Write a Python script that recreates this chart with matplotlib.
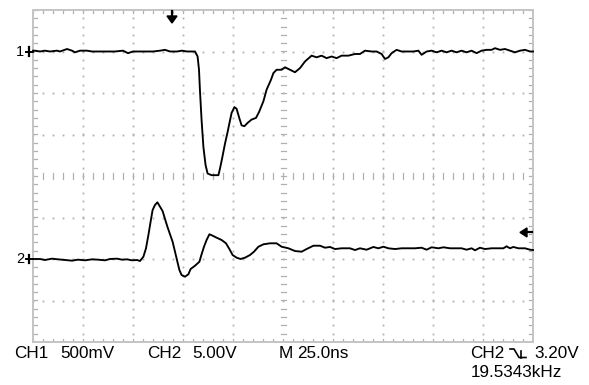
import numpy as np
import matplotlib
matplotlib.use("Agg")
import matplotlib.pyplot as plt
from matplotlib.transforms import blended_transform_factory
from matplotlib.patches import Polygon

# ---- acquisition settings -------------------------------------------------
time_per_div = 25.0          # ns / div
ch1_scale = 0.5              # V / div
ch2_scale = 5.0              # V / div
ch1_position = 3.0           # ground marker, divisions from centre
ch2_position = -2.0
trigger_time = 69.5          # ns from left edge of the screen
trigger_level = 3.20         # V on CH2

# ---- channel 1 record (ns, V) --------------------------------------------
ch1_t = [0.0, 1.0, 3.5, 6.0, 8.5, 12.0, 13.5, 17.0, 19.5, 21.0, 23.5, 27.0, 29.5,
         32.5, 37.0, 41.0, 45.0, 47.5, 50.0, 53.5, 57.0, 60.0, 63.5, 66.0, 68.5,
         72.0, 74.5, 77.0, 79.5, 81.0, 82.3, 83.0, 83.5, 84.3, 85.2, 86.3, 87.3,
         89.3, 92.7, 93.5, 94.7, 96.0, 97.3, 98.5, 99.3, 100.7, 101.8, 103.0,
         104.3, 105.7, 107.3, 109.3, 111.5, 113.0, 115.2, 116.8, 119.0, 120.2,
         121.8, 124.3, 126.0, 128.5, 131.0, 133.5, 136.0, 139.3, 141.8, 144.3,
         146.8, 149.3, 151.8, 154.3, 157.7, 161.0, 163.5, 166.0, 169.3, 171.8,
         174.3, 176.0, 177.7, 179.3, 181.8, 184.3, 187.7, 190.2, 192.7, 194.3,
         196.8, 199.3, 201.8, 204.3, 206.8, 209.3, 211.8, 214.3, 216.8, 219.3,
         221.8, 224.3, 226.8, 229.3, 231.0, 233.5, 236.0, 238.5, 241.0, 243.5,
         246.0, 248.5, 250.0]
ch1_v = [0.01, 0.01, 0.00, 0.01, 0.00, 0.01, 0.00, 0.03, 0.01, -0.01, 0.01, 0.01,
         0.00, 0.00, 0.00, 0.00, 0.01, -0.02, 0.00, 0.00, 0.00, 0.00, 0.01, 0.02,
         0.00, 0.00, 0.01, 0.00, 0.00, 0.00, -0.06, -0.22, -0.48, -0.83, -1.15,
         -1.37, -1.47, -1.49, -1.49, -1.41, -1.27, -1.11, -0.97, -0.83, -0.74,
         -0.67, -0.69, -0.79, -0.89, -0.90, -0.86, -0.82, -0.80, -0.73, -0.60,
         -0.46, -0.34, -0.26, -0.22, -0.22, -0.19, -0.22, -0.25, -0.20, -0.12,
         -0.05, -0.07, -0.05, -0.08, -0.06, -0.08, -0.05, -0.05, -0.03, -0.03,
         0.01, 0.00, 0.00, -0.03, -0.09, -0.07, -0.02, 0.02, 0.00, 0.00, 0.00,
         0.01, -0.04, 0.00, 0.01, -0.01, 0.01, -0.01, 0.01, -0.01, 0.01, -0.01,
         0.01, -0.02, 0.01, 0.02, 0.02, 0.04, 0.02, 0.03, 0.01, -0.01, 0.01,
         0.02, 0.00, 0.00]

# ---- channel 2 record (ns, V) --------------------------------------------
ch2_t = [0.0, 3.5, 6.0, 9.5, 12.5, 16.0, 19.5, 22.5, 26.0, 29.5, 32.5, 36.0, 38.5,
         42.0, 44.5, 47.0, 49.5, 52.0, 53.5, 55.2, 56.5, 57.7, 58.8, 59.8, 61.0,
         62.2, 63.5, 64.8, 66.0, 67.2, 68.5, 69.8, 71.0, 72.2, 73.2, 74.3, 76.0,
         77.7, 78.8, 81.0, 83.2, 84.3, 85.5, 86.8, 88.2, 89.8, 91.8, 94.3, 96.5,
         98.2, 99.8, 101.8, 103.8, 106.0, 108.5, 110.5, 112.7, 115.2, 118.5,
         121.8, 124.3, 127.7, 131.0, 134.3, 136.8, 140.2, 143.5, 146.0, 148.5,
         151.0, 154.3, 158.5, 161.0, 163.5, 166.8, 170.2, 172.7, 175.2, 177.7,
         181.0, 184.3, 187.7, 191.0, 194.3, 196.8, 199.3, 202.7, 205.2, 208.5,
         211.0, 214.3, 216.8, 219.3, 221.0, 223.5, 226.0, 229.3, 232.7, 235.2,
         236.8, 238.5, 240.2, 242.7, 246.0, 248.5, 250.0]
ch2_v = [0.00, 0.00, -0.12, 0.04, -0.04, -0.12, -0.20, -0.08, -0.16, -0.04, -0.08,
         -0.16, 0.00, 0.04, -0.08, -0.04, -0.16, -0.12, -0.24, 0.28, 1.29, 2.89,
         4.49, 5.90, 6.51, 6.83, 6.30, 5.78, 4.82, 3.89, 2.98, 2.08, 0.88, -0.33,
         -1.33, -1.93, -2.13, -1.84, -1.21, -0.81, -0.33, 0.57, 1.48, 2.29, 2.98,
         2.81, 2.57, 2.29, 1.89, 1.20, 0.48, 0.16, 0.00, 0.16, 0.48, 0.88, 1.48,
         1.77, 1.89, 1.89, 1.48, 1.29, 0.96, 0.88, 1.20, 1.60, 1.60, 1.36, 1.45,
         1.20, 1.29, 1.29, 1.08, 1.29, 1.12, 1.45, 1.29, 1.48, 1.29, 1.20, 1.29,
         1.29, 1.29, 1.36, 1.12, 1.41, 1.29, 1.41, 1.29, 1.29, 1.29, 1.12, 1.29,
         1.05, 1.36, 1.20, 1.29, 1.29, 1.29, 1.53, 1.29, 1.45, 1.29, 1.29, 1.12,
         1.08]

readout = ["CH1", "500mV", "CH2", "5.00V", "M", "25.0ns", "CH2", "3.20V", "19.5343kHz"]

# ---- figure ---------------------------------------------------------------
W, H = 589, 385
fig = plt.figure(figsize=(W / 100, H / 100), dpi=100)
fig.patch.set_facecolor("white")


def fx(px):
    return px / W


def fy(py):
    return 1 - py / H


ax = fig.add_axes([fx(33), fy(342), 500 / W, 332 / H])
ax.set_xlim(0, 10 * time_per_div)
ax.set_ylim(-4, 4)
ax.axis("off")

grid_col = "#b0b0b0"
edge_col = "#c4c4c4"
xs_minor = np.arange(0, 10 * time_per_div + 0.01, time_per_div / 5)
ys_minor = np.arange(-4, 4.001, 0.2)
tick_x = time_per_div * 0.05   # ~2.5 px
tick_y = 0.07                  # ~3 px

# dotted division lines
for i in range(1, 10):
    if i == 5:
        continue
    ax.plot(np.full_like(ys_minor, i * time_per_div), ys_minor, "s", ms=1.3,
            color=grid_col, mec="none")
for j in range(-3, 4):
    if j == 0:
        continue
    ax.plot(xs_minor, np.full_like(xs_minor, j), "s", ms=1.3,
            color=grid_col, mec="none")

# centre cross with minor ticks
xc = 5 * time_per_div
for x in xs_minor:
    ax.plot([x, x], [-tick_y, tick_y], color=grid_col, lw=0.9)
    ax.plot([x, x], [4, 4 - tick_y * 1.2], color=grid_col, lw=0.9)
    ax.plot([x, x], [-4, -4 + tick_y * 1.2], color=grid_col, lw=0.9)
for y in ys_minor:
    ax.plot([xc - tick_x, xc + tick_x], [y, y], color=grid_col, lw=0.9)
    ax.plot([0, tick_x * 1.5], [y, y], color=grid_col, lw=0.9)
    ax.plot([250 - tick_x * 1.5, 250], [y, y], color=grid_col, lw=0.9)

# screen border
ax.plot([0, 250, 250, 0, 0], [-4, -4, 4, 4, -4], color=edge_col, lw=1.4,
        clip_on=False, solid_joinstyle="miter")

# traces
ch1_div = ch1_position + np.array(ch1_v) / ch1_scale
ch2_div = ch2_position + np.array(ch2_v) / ch2_scale
ax.plot(ch1_t, ch1_div, color="black", lw=1.35, clip_on=False)
ax.plot(ch2_t, ch2_div, color="black", lw=1.35, clip_on=False)

# ground markers
bt = blended_transform_factory(fig.transFigure, ax.transData)
for label, pos in (("1", ch1_position), ("2", ch2_position)):
    ax.text(fx(16), pos, label, transform=bt, fontsize=10.5,
            family="Liberation Sans", va="center", ha="left")
    ax.plot([fx(25.5), fx(33)], [pos, pos], transform=bt, color="black",
            lw=1.4, clip_on=False)
    ax.plot([fx(28.5), fx(28.5)], [pos - 0.1, pos + 0.1], transform=bt,
            color="black", lw=1.6, clip_on=False)

# trigger position arrow (top)
tt = blended_transform_factory(ax.transData, fig.transFigure)
ax.plot([trigger_time, trigger_time], [fy(11), fy(17)], transform=tt,
        color="black", lw=1.6, clip_on=False)
xpix = ax.transData.transform((trigger_time, 0))[0]
fig.patches.append(Polygon([(fx(xpix - 5), fy(16)), (fx(xpix + 5), fy(16)),
                            (fx(xpix), fy(23))], closed=True,
                           transform=fig.transFigure, color="black"))

# trigger level arrow (right)
lvl = ch2_position + trigger_level / ch2_scale
ypix = ax.transData.transform((0, lvl))[1]
ax.plot([fx(525), fx(532)], [lvl, lvl], transform=bt, color="black", lw=1.6,
        clip_on=False)
fig.patches.append(Polygon([(fx(520), ypix / H), (fx(527), ypix / H + 4.5 / H),
                            (fx(527), ypix / H - 4.5 / H)], closed=True,
                           transform=fig.transFigure, color="black"))

# readout
font = dict(fontsize=12.3, family="Liberation Sans", va="baseline", ha="left")
positions = [(14, 358), (60, 358), (147, 358), (192, 358), (279, 358),
             (297, 358), (470, 358), (534, 358), (471, 377)]
for txt, (px, py) in zip(readout, positions):
    fig.text(fx(px), fy(py), txt, **font)

# falling-slope symbol
fig.lines.append(plt.Line2D([fx(510), fx(514), fx(519), fx(526)],
                            [fy(349), fy(349), fy(357.5), fy(357.5)],
                            transform=fig.transFigure, color="black", lw=1.2))
fig.lines.append(plt.Line2D([fx(520.5), fx(520.5)], [fy(351), fy(357.5)],
                            transform=fig.transFigure, color="black", lw=1.2))

fig.savefig("out.png", dpi=100, facecolor="white")
